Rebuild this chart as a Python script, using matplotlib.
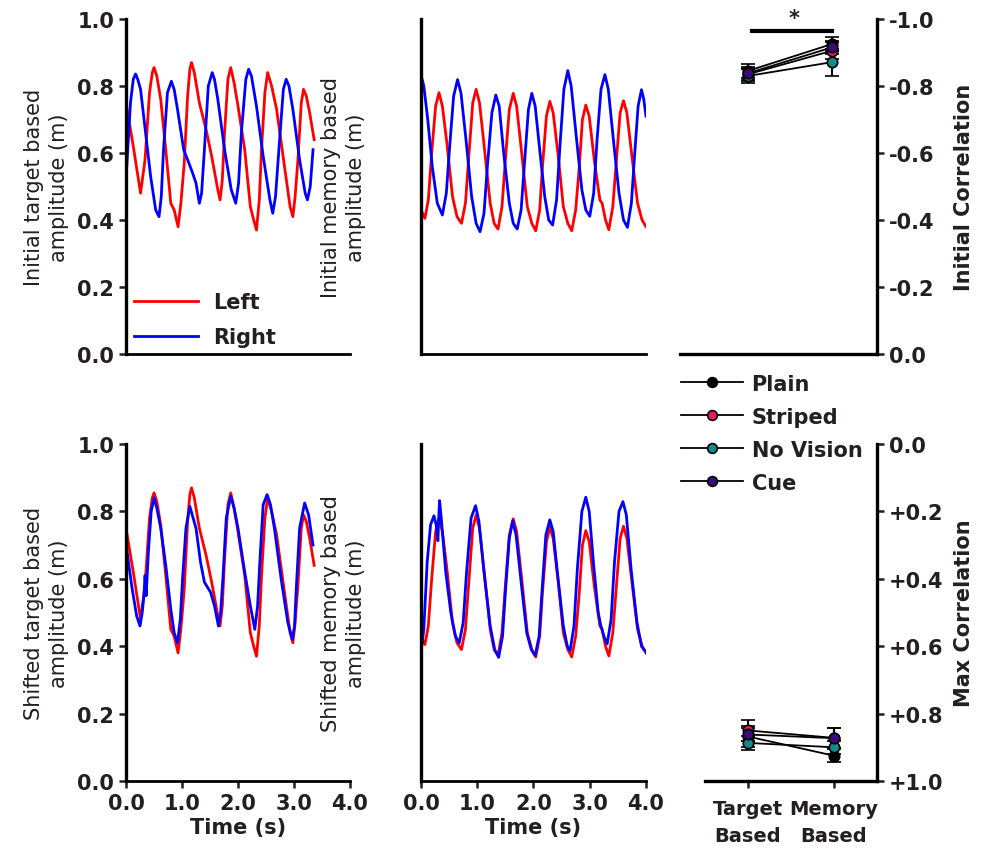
import numpy as np
import matplotlib
matplotlib.use('Agg')
import matplotlib.pyplot as plt
from matplotlib.lines import Line2D

plt.rcParams['font.family'] = ['DejaVu Sans']
TXT = '#231f20'

# ---- time series (s, m) ----
# left hand, target based (same trace in initial and shifted panel)
t_left_tgt = [0.00, 0.13, 0.26, 0.34, 0.42, 0.47, 0.50, 0.55, 0.62, 0.71, 0.80, 0.86, 0.93, 0.98, 1.04, 1.10, 1.14, 1.17,
              1.22, 1.31, 1.43, 1.53, 1.64, 1.68, 1.72, 1.76, 1.82, 1.87, 1.93, 2.00, 2.12, 2.22, 2.28, 2.33, 2.38, 2.42,
              2.48, 2.53, 2.60, 2.69, 2.83, 2.93, 2.98, 3.02, 3.07, 3.13, 3.17, 3.22, 3.28, 3.36]
v_left_tgt = [0.75, 0.62, 0.48, 0.58, 0.78, 0.84, 0.855, 0.83, 0.76, 0.61, 0.45, 0.43, 0.38, 0.45, 0.57, 0.77, 0.85, 0.87,
              0.84, 0.75, 0.67, 0.59, 0.49, 0.46, 0.52, 0.66, 0.82, 0.855, 0.81, 0.74, 0.61, 0.44, 0.40, 0.37, 0.46, 0.61,
              0.78, 0.84, 0.80, 0.73, 0.56, 0.44, 0.41, 0.47, 0.58, 0.75, 0.79, 0.77, 0.72, 0.64]

# right hand, target based, initial
t_right_tgt = [0.01, 0.08, 0.13, 0.17, 0.21, 0.26, 0.35, 0.44, 0.53, 0.59, 0.63, 0.67, 0.74, 0.81, 0.86, 0.92, 1.03, 1.10,
               1.19, 1.25, 1.31, 1.35, 1.40, 1.47, 1.54, 1.58, 1.64, 1.76, 1.88, 1.96, 2.01, 2.06, 2.14, 2.19, 2.24, 2.33,
               2.45, 2.57, 2.62, 2.67, 2.73, 2.81, 2.86, 2.91, 2.98, 3.10, 3.20, 3.24, 3.29, 3.34]
v_right_tgt = [0.55, 0.75, 0.82, 0.836, 0.82, 0.79, 0.66, 0.53, 0.43, 0.41, 0.47, 0.61, 0.78, 0.814, 0.79, 0.73, 0.61, 0.58,
               0.54, 0.51, 0.45, 0.48, 0.61, 0.80, 0.84, 0.82, 0.76, 0.61, 0.49, 0.45, 0.51, 0.66, 0.82, 0.85, 0.83, 0.74,
               0.59, 0.46, 0.42, 0.47, 0.61, 0.79, 0.82, 0.80, 0.73, 0.58, 0.48, 0.46, 0.50, 0.61]

# right hand, target based, shifted
t_right_tgt_sh = [0.01, 0.11, 0.19, 0.25, 0.29, 0.32, 0.34, 0.36, 0.40, 0.45, 0.50, 0.55, 0.62, 0.71, 0.80, 0.86, 0.92,
                  0.97, 1.01, 1.07, 1.14, 1.25, 1.33, 1.40, 1.51, 1.58, 1.65, 1.69, 1.73, 1.79, 1.87, 1.93, 2.00, 2.12,
                  2.22, 2.30, 2.35, 2.39, 2.45, 2.52, 2.58, 2.65, 2.77, 2.89, 2.97, 3.01, 3.04, 3.10, 3.19, 3.26, 3.34]
v_right_tgt_sh = [0.69, 0.57, 0.49, 0.46, 0.50, 0.55, 0.61, 0.55, 0.68, 0.80, 0.84, 0.81, 0.75, 0.64, 0.51, 0.44, 0.41,
                  0.48, 0.60, 0.75, 0.815, 0.75, 0.65, 0.59, 0.56, 0.52, 0.46, 0.50, 0.60, 0.78, 0.845, 0.81, 0.75, 0.62,
                  0.52, 0.45, 0.52, 0.65, 0.82, 0.85, 0.82, 0.75, 0.60, 0.47, 0.42, 0.46, 0.57, 0.75, 0.825, 0.79, 0.70]

# left hand, memory based
t_left_mem = [0.00, 0.07, 0.13, 0.19, 0.26, 0.32, 0.38, 0.46, 0.56, 0.64, 0.72, 0.79, 0.85, 0.92, 0.98, 1.04, 1.13, 1.23,
              1.30, 1.37, 1.44, 1.50, 1.57, 1.64, 1.70, 1.79, 1.89, 1.97, 2.04, 2.11, 2.16, 2.23, 2.29, 2.35, 2.44, 2.53,
              2.61, 2.68, 2.75, 2.81, 2.87, 2.93, 2.99, 3.08, 3.18, 3.22, 3.28, 3.34, 3.41, 3.47, 3.54, 3.60, 3.66, 3.75,
              3.85, 3.93, 4.00]
v_left_mem = [0.43, 0.405, 0.46, 0.60, 0.74, 0.78, 0.74, 0.63, 0.47, 0.41, 0.39, 0.45, 0.59, 0.75, 0.79, 0.75, 0.61, 0.45,
              0.39, 0.373, 0.44, 0.58, 0.73, 0.778, 0.74, 0.60, 0.44, 0.39, 0.368, 0.43, 0.56, 0.71, 0.754, 0.72, 0.59, 0.44,
              0.39, 0.368, 0.43, 0.55, 0.70, 0.743, 0.71, 0.58, 0.46, 0.45, 0.40, 0.371, 0.44, 0.57, 0.72, 0.756, 0.72, 0.59,
              0.45, 0.40, 0.38]

# right hand, memory based, initial
t_right_mem = [0.00, 0.05, 0.12, 0.20, 0.29, 0.38, 0.45, 0.51, 0.58, 0.65, 0.71, 0.80, 0.90, 0.98, 1.05, 1.12, 1.18, 1.26,
               1.33, 1.39, 1.47, 1.57, 1.64, 1.71, 1.78, 1.84, 1.91, 1.97, 2.03, 2.11, 2.20, 2.27, 2.34, 2.41, 2.47, 2.54,
               2.61, 2.67, 2.76, 2.86, 2.93, 3.00, 3.07, 3.13, 3.20, 3.27, 3.33, 3.42, 3.52, 3.60, 3.67, 3.74, 3.80, 3.86,
               3.92, 3.96, 4.00]
v_right_mem = [0.833, 0.80, 0.70, 0.56, 0.45, 0.415, 0.48, 0.62, 0.77, 0.819, 0.78, 0.64, 0.47, 0.39, 0.365, 0.42, 0.56,
               0.72, 0.773, 0.74, 0.60, 0.45, 0.39, 0.373, 0.43, 0.57, 0.73, 0.778, 0.74, 0.61, 0.47, 0.40, 0.385, 0.46,
               0.62, 0.79, 0.846, 0.80, 0.65, 0.49, 0.43, 0.411, 0.48, 0.64, 0.79, 0.834, 0.79, 0.64, 0.48, 0.40, 0.378,
               0.45, 0.60, 0.74, 0.789, 0.76, 0.71]

# right hand, memory based, shifted
t_right_mem_sh = [0.00, 0.05, 0.11, 0.17, 0.23, 0.27, 0.30, 0.32, 0.33, 0.36, 0.44, 0.53, 0.61, 0.68, 0.75, 0.81, 0.89,
                  0.97, 1.03, 1.12, 1.23, 1.31, 1.38, 1.45, 1.50, 1.57, 1.63, 1.69, 1.78, 1.88, 1.96, 2.03, 2.10, 2.15,
                  2.22, 2.29, 2.35, 2.43, 2.53, 2.60, 2.65, 2.72, 2.78, 2.86, 2.93, 2.99, 3.07, 3.15, 3.19, 3.25, 3.31,
                  3.38, 3.44, 3.52, 3.59, 3.65, 3.74, 3.84, 3.92, 4.00]
v_right_mem_sh = [0.382, 0.45, 0.65, 0.76, 0.787, 0.76, 0.713, 0.80, 0.832, 0.78, 0.62, 0.50, 0.43, 0.41, 0.47, 0.62,
                  0.78, 0.817, 0.77, 0.62, 0.46, 0.39, 0.367, 0.43, 0.56, 0.72, 0.772, 0.73, 0.59, 0.44, 0.39, 0.372,
                  0.43, 0.56, 0.73, 0.775, 0.74, 0.61, 0.46, 0.40, 0.387, 0.46, 0.63, 0.80, 0.842, 0.80, 0.64, 0.50,
                  0.466, 0.43, 0.407, 0.48, 0.65, 0.80, 0.829, 0.79, 0.62, 0.47, 0.40, 0.382]

# ---- correlations ----
conditions = ['Plain', 'Striped', 'No Vision', 'Cue']
cond_colors = ['#000000', '#ee1862', '#168a8a', '#3d0b7d']
cmp_labels = ['Target\nBased', 'Memory\nBased']
init_corr = [[-0.845, -0.925], [-0.835, -0.905], [-0.830, -0.871], [-0.838, -0.915]]
init_err = [[0.02, 0.02], [0.02, 0.025], [0.02, 0.04], [0.02, 0.02]]
max_corr = [[0.868, 0.925], [0.850, 0.872], [0.887, 0.900], [0.862, 0.873]]
max_err = [[0.03, 0.02], [0.03, 0.03], [0.02, 0.02], [0.02, 0.03]]

W, H = 987, 862
FS = 15
fig = plt.figure(figsize=(W / 100, H / 100), dpi=100)


def box(x0, y0, x1, y1):
    return [x0 / W, 1 - y1 / H, (x1 - x0) / W, (y1 - y0) / H]


def style_amp(ax, ylab, show_y, show_x):
    for s in ['top', 'right']:
        ax.spines[s].set_visible(False)
    ax.spines['left'].set_linewidth(2.4)
    ax.spines['bottom'].set_linewidth(2.0)
    ax.set_xlim(0, 4)
    ax.set_ylim(0, 1)
    ax.tick_params(direction='out', width=1.8, length=5, labelsize=FS, colors=TXT)
    if show_y:
        ax.set_yticks(np.arange(0, 1.01, 0.2))
        ax.set_yticklabels(['%.1f' % v for v in np.arange(0, 1.01, 0.2)], fontweight='bold')
    else:
        ax.set_yticks([])
    if show_x:
        ax.set_xticks(range(5))
        ax.set_xticklabels(['%.1f' % v for v in range(5)], fontweight='bold')
        ax.set_xlabel('Time (s)', fontsize=FS, fontweight='bold', color=TXT, labelpad=3)
    else:
        ax.set_xticks([])
    ax.set_ylabel(ylab, fontsize=15, color=TXT, linespacing=1.3)


lw = 2.0
ax1 = fig.add_axes(box(126, 20, 350, 355))
ax1.plot(t_left_tgt, v_left_tgt, color='#ff0000', lw=lw, label='Left')
ax1.plot(t_right_tgt, v_right_tgt, color='#0000ff', lw=lw, label='Right')
style_amp(ax1, 'Initial target based\namplitude (m)', True, False)
ax1.yaxis.set_label_coords(-0.255, 0.5)
leg = ax1.legend(loc='lower left', bbox_to_anchor=(-0.05, -0.035), frameon=False, handlelength=3.1,
                 handletextpad=0.7, labelspacing=0.7, prop={'weight': 'bold', 'size': FS})
for tx in leg.get_texts():
    tx.set_color(TXT)

ax2 = fig.add_axes(box(421, 20, 646, 355))
ax2.plot(t_left_mem, v_left_mem, color='#ff0000', lw=lw)
ax2.plot(t_right_mem, v_right_mem, color='#0000ff', lw=lw)
style_amp(ax2, 'Initial memory based\namplitude (m)', False, False)
ax2.yaxis.set_label_coords(-0.245, 0.5)

ax4 = fig.add_axes(box(126, 445, 350, 782))
ax4.plot(t_left_tgt, v_left_tgt, color='#ff0000', lw=lw)
ax4.plot(t_right_tgt_sh, v_right_tgt_sh, color='#0000ff', lw=lw)
style_amp(ax4, 'Shifted target based\namplitude (m)', True, True)
ax4.yaxis.set_label_coords(-0.255, 0.5)

ax5 = fig.add_axes(box(421, 445, 646, 782))
ax5.plot(t_left_mem, v_left_mem, color='#ff0000', lw=lw)
ax5.plot(t_right_mem_sh, v_right_mem_sh, color='#0000ff', lw=lw)
style_amp(ax5, 'Shifted memory based\namplitude (m)', False, True)
ax5.yaxis.set_label_coords(-0.245, 0.5)


def style_corr(ax, ylab, ticks, labels, show_x):
    for s in ['top', 'left']:
        ax.spines[s].set_visible(False)
    ax.spines['right'].set_linewidth(2.4)
    ax.spines['bottom'].set_linewidth(2.4)
    ax.yaxis.tick_right()
    ax.yaxis.set_label_position('right')
    ax.set_yticks(ticks)
    ax.set_yticklabels(labels, fontweight='bold')
    ax.tick_params(direction='out', width=1.8, length=5, labelsize=FS, colors=TXT)
    if show_x:
        ax.set_xticks([0, 1])
        ax.set_xticklabels(cmp_labels, fontweight='bold', fontsize=14, linespacing=1.55)
        ax.tick_params(axis='x', pad=8)
    else:
        ax.set_xticks([])
    ax.set_ylabel(ylab, fontsize=FS, fontweight='bold', color=TXT, rotation=90)


def draw_corr(ax, vals, errs):
    for vals_c in vals:
        ax.plot([0, 1], vals_c, color='black', lw=1.3, zorder=2)
    for vals_c, err_c, col in zip(vals, errs, cond_colors):
        ax.errorbar([0, 1], vals_c, yerr=err_c, fmt='o', color='black', ecolor='black', elinewidth=1.5,
                    capsize=5, capthick=1.5, markerfacecolor=col, markeredgecolor='black', markersize=7.5,
                    markeredgewidth=1.2, zorder=3)


ax3 = fig.add_axes(box(680, 20, 877, 355))
draw_corr(ax3, init_corr, init_err)
ax3.set_xlim(-0.81, 1.54)
ax3.set_ylim(0, -1)
style_corr(ax3, 'Initial Correlation', np.arange(-1.0, 0.01, 0.2),
           ['%.1f' % v for v in np.arange(-1.0, 0.01, 0.2)][:-1] + ['0.0'], False)
ax3.yaxis.set_label_coords(1.39, 0.5)
ax3.plot([0.05, 1.0], [-0.964, -0.964], color='black', lw=3, clip_on=False)
ax3.text(0.55, -0.972, '*', ha='center', va='bottom', fontsize=FS, fontweight='bold', color=TXT)

ax6 = fig.add_axes(box(705, 445, 877, 782))
draw_corr(ax6, max_corr, max_err)
ax6.set_xlim(-0.5, 1.5)
ax6.set_ylim(1, 0)
style_corr(ax6, 'Max Correlation', np.arange(0, 1.01, 0.2),
           ['0.0'] + ['+%.1f' % v for v in np.arange(0.2, 1.01, 0.2)], True)
ax6.yaxis.set_label_coords(1.45, 0.5)

handles = [Line2D([0], [0], color='black', lw=1.3, marker='o', markerfacecolor=c, markeredgecolor='black',
                  markersize=7, markeredgewidth=1.2) for c in cond_colors]
leg2 = fig.legend(handles, conditions, loc='upper left', bbox_to_anchor=(662 / W, 1 - 356 / H), frameon=False,
                  handlelength=3.0, handletextpad=0.4, labelspacing=0.62, prop={'weight': 'bold', 'size': FS})
for tx in leg2.get_texts():
    tx.set_color(TXT)

fig.savefig('out.png', dpi=100)
